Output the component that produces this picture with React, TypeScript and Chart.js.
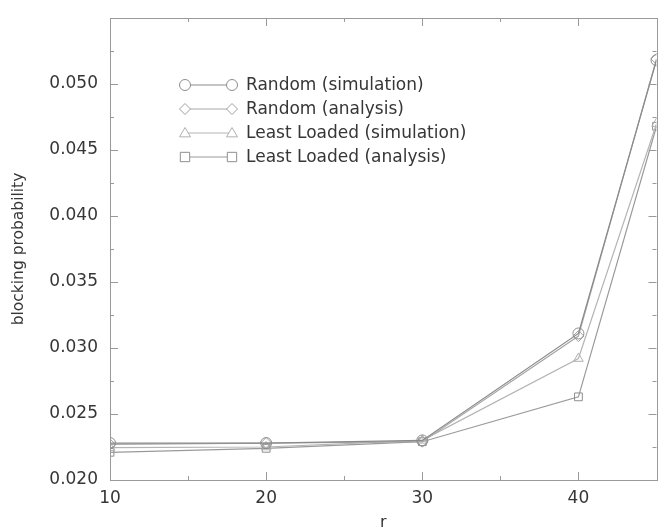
import React, { useEffect, useRef } from "react";
import { Chart, registerables } from "chart.js";

Chart.register(...registerables);

const rValues = [10, 20, 30, 40, 45];
const randomSim = [0.0228, 0.0228, 0.0230, 0.0311, 0.0518];
const randomAna = [0.0227, 0.0228, 0.0229, 0.0309, 0.0519];
const leastSim = [0.02245, 0.0225, 0.0230, 0.0292, 0.0470];
const leastAna = [0.0221, 0.0224, 0.0229, 0.0263, 0.0468];
const seriesNames = [
  "Random (simulation)",
  "Random (analysis)",
  "Least Loaded (simulation)",
  "Least Loaded (analysis)",
];
const yTicks = [0.02, 0.025, 0.03, 0.035, 0.04, 0.045, 0.05];
const xTicks = [10, 20, 30, 40];

const FONT = "'DejaVu Sans', sans-serif";
const TEXT = "#363636";
const lineColors = ["#8a8a8a", "#a8a8a8", "#b4b4b4", "#9a9a9a"];
const markerColors = ["#8c8c8c", "#a0a0a0", "#b0b0b0", "#8f8f8f"];
const styles: any[] = ["circle", "rectRot", "triangle", "rect"];

function drawMarker(ctx: CanvasRenderingContext2D, style: string, x: number, y: number, r: number) {
  ctx.beginPath();
  if (style === "circle") {
    ctx.arc(x, y, r, 0, Math.PI * 2);
  } else if (style === "rectRot") {
    ctx.moveTo(x, y - r);
    ctx.lineTo(x + r, y);
    ctx.lineTo(x, y + r);
    ctx.lineTo(x - r, y);
    ctx.closePath();
  } else if (style === "triangle") {
    ctx.moveTo(x, y - r);
    ctx.lineTo(x + r, y + r * 0.7);
    ctx.lineTo(x - r, y + r * 0.7);
    ctx.closePath();
  } else {
    ctx.rect(x - r * 0.85, y - r * 0.85, r * 1.7, r * 1.7);
  }
  ctx.fillStyle = "#ffffff";
  ctx.fill();
  ctx.stroke();
}

const framePlugin = {
  id: "frame",
  afterDraw(chart: any) {
    const { ctx, chartArea: a, scales } = chart;
    const xs = scales.x;
    const ys = scales.y;
    ctx.save();
    ctx.strokeStyle = "#9a9a9a";
    ctx.lineWidth = 1;
    ctx.strokeRect(Math.round(a.left) + 0.5, Math.round(a.top) + 0.5, Math.round(a.right - a.left), Math.round(a.bottom - a.top));
    ctx.beginPath();
    for (let v = 10; v <= 45; v += 5) {
      const px = Math.round(xs.getPixelForValue(v)) + 0.5;
      const len = v % 10 === 0 ? 8 : 4;
      ctx.moveTo(px, a.bottom);
      ctx.lineTo(px, a.bottom - len);
      ctx.moveTo(px, a.top);
      ctx.lineTo(px, a.top + len);
    }
    for (let i = 0; i <= 14; i++) {
      const v = 0.02 + i * 0.0025;
      const py = Math.round(ys.getPixelForValue(v)) + 0.5;
      const len = i % 2 === 0 ? 8 : 4;
      ctx.moveTo(a.left, py);
      ctx.lineTo(a.left + len, py);
      ctx.moveTo(a.right, py);
      ctx.lineTo(a.right - len, py);
    }
    ctx.stroke();

    // legend
    const lx0 = a.left + 75;
    const lx1 = a.left + 122;
    const tx = a.left + 136;
    const ly0 = a.top + 67;
    const step = 24;
    ctx.font = "17px " + FONT;
    ctx.textBaseline = "middle";
    ctx.textAlign = "left";
    seriesNames.forEach((name, i) => {
      const y = ly0 + i * step;
      ctx.strokeStyle = lineColors[i];
      ctx.beginPath();
      ctx.moveTo(lx0, y);
      ctx.lineTo(lx1, y);
      ctx.stroke();
      ctx.strokeStyle = markerColors[i];
      drawMarker(ctx, styles[i], lx0, y, 5.5);
      drawMarker(ctx, styles[i], lx1, y, 5.5);
      ctx.fillStyle = TEXT;
      ctx.fillText(name, tx, y + 1);
    });
    ctx.restore();
  },
};

export default function App() {
  const ref = useRef<HTMLCanvasElement | null>(null);
  useEffect(() => {
    if (!ref.current) return;
    const seriesData = [randomSim, randomAna, leastSim, leastAna];
    const chart = new Chart(ref.current, {
      type: "line",
      data: {
        datasets: seriesData.map((vals, i) => ({
          label: seriesNames[i],
          data: rValues.map((r, j) => ({ x: r, y: vals[j] })),
          borderColor: lineColors[i],
          borderWidth: 1.2,
          pointStyle: styles[i],
          pointRadius: 5.5,
          pointBorderColor: markerColors[i],
          pointBackgroundColor: "rgba(255,255,255,0)",
          pointBorderWidth: 1,
          tension: 0,
          fill: false,
        })),
      },
      options: {
        animation: false,
        responsive: false,
        maintainAspectRatio: false,
        layout: { padding: { top: 18, right: 4, left: 0, bottom: 0 } },
        plugins: {
          legend: { display: false },
          tooltip: { enabled: false },
        },
        scales: {
          x: {
            type: "linear",
            min: 10,
            max: 45,
            afterFit: (s: any) => {
              s.height = 52;
              s.paddingLeft = 0;
              s.paddingRight = 0;
            },
            afterBuildTicks: (s: any) => {
              s.ticks = xTicks.map((v) => ({ value: v }));
            },
            grid: { display: false, drawTicks: false },
            border: { display: false },
            ticks: {
              padding: 8,
              color: TEXT,
              font: { family: FONT, size: 17 },
              callback: (v: any) => String(v),
            },
            title: {
              display: true,
              text: "r",
              color: TEXT,
              font: { family: FONT, size: 16 },
              padding: { top: 1, bottom: 0 },
            },
          },
          y: {
            type: "linear",
            min: 0.02,
            max: 0.055,
            afterFit: (s: any) => {
              s.width = 110;
              s.paddingTop = 0;
              s.paddingBottom = 0;
            },
            afterBuildTicks: (s: any) => {
              s.ticks = yTicks.map((v) => ({ value: v }));
            },
            grid: { display: false, drawTicks: false },
            border: { display: false },
            ticks: {
              padding: 12,
              color: TEXT,
              font: { family: FONT, size: 17 },
              callback: (v: any) => Number(v).toFixed(3),
            },
            title: {
              display: true,
              text: "blocking probability",
              color: TEXT,
              font: { family: FONT, size: 15.5 },
              padding: { top: 10, bottom: 0 },
            },
          },
        },
      },
      plugins: [framePlugin],
    });
    return () => chart.destroy();
  }, []);
  return (
    <div style={{ position: "fixed", left: 0, top: 0, width: 663, height: 532, background: "#fff" }}>
      <canvas ref={ref} width={663} height={532} style={{ display: "block", width: 663, height: 532 }} />
    </div>
  );
}
